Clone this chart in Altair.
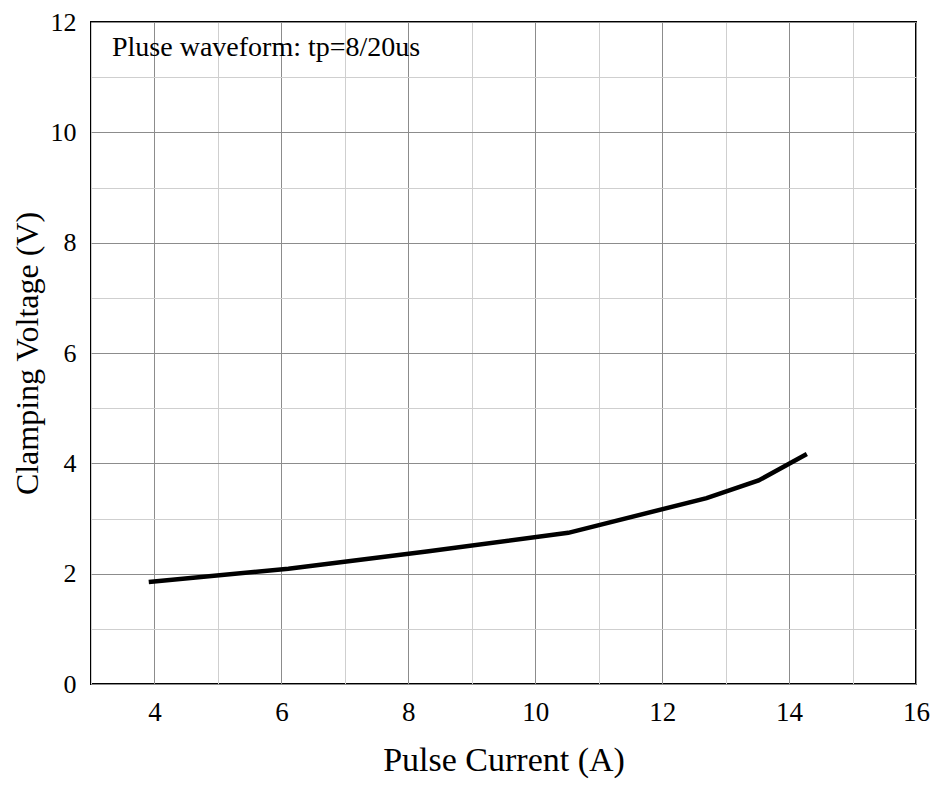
import altair as alt
import pandas as pd

current = [3.91, 6.11, 8.29, 10.52, 12.70, 13.52, 14.28]
voltage = [1.85, 2.09, 2.40, 2.74, 3.37, 3.69, 4.17]
x_ticks = list(range(3, 17))
y_ticks = list(range(0, 13))
note = "Pluse waveform: tp=8/20us"

df = pd.DataFrame({"current": current, "voltage": voltage})

FONT = "Liberation Serif"
grid_color = {"condition": {"test": "datum.value % 2 == 0", "value": "#8c8c8c"}, "value": "#cfcfcf"}

line = alt.Chart(df).mark_line(color="black", strokeWidth=4.5).encode(
    x=alt.X("current:Q", scale=alt.Scale(domain=[3, 16], nice=False, zero=False),
            axis=alt.Axis(values=x_ticks, labelExpr="datum.value % 2 == 0 ? datum.label : ''",
                          title="Pulse Current (A)", grid=True, gridColor=grid_color,
                          gridWidth=1, ticks=False, domain=False,
                          labelFlush=False, labelOverlap=False,
                          labelFont=FONT, labelFontSize=27, labelColor="black", labelPadding=15,
                          titleFont=FONT, titleFontSize=34, titleFontWeight="normal",
                          titleColor="black", titlePadding=18)),
    y=alt.Y("voltage:Q", scale=alt.Scale(domain=[0, 12], nice=False),
            axis=alt.Axis(values=y_ticks, labelExpr="datum.value % 2 == 0 ? datum.label : ''",
                          title="Clamping Voltage (V)", grid=True, gridColor=grid_color,
                          gridWidth=1, ticks=False, domain=False,
                          labelFlush=False, labelOverlap=False,
                          labelFont=FONT, labelFontSize=26, labelColor="black", labelPadding=15,
                          titleFont=FONT, titleFontSize=32, titleFontWeight="normal",
                          titleColor="black", titlePadding=6)),
)

text = alt.Chart(pd.DataFrame({"t": [note]})).mark_text(
    font=FONT, fontSize=28, color="black", align="left", baseline="alphabetic"
).encode(x=alt.value(21), y=alt.value(34), text="t:N")

chart = (line + text).properties(
    width=825, height=662,
    autosize=alt.AutoSizeParams(type="none"),
    padding={"left": 83, "top": 14, "right": 24, "bottom": 100},
).configure_view(stroke="black", strokeWidth=2)

chart.save("out.html", embed_options={"renderer": "svg", "actions": False})
